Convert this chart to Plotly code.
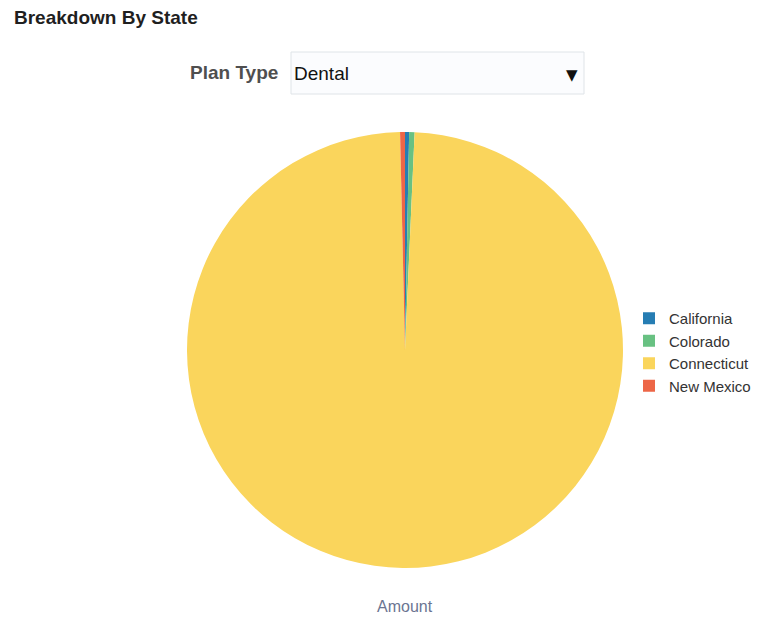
import plotly.graph_objects as go

# Data
states = ["California", "Colorado", "Connecticut", "New Mexico"]
amounts = [3100, 4100, 1012000, 3700]
colors = ["#267db3", "#68c182", "#fad55c", "#ed6647"]
plan_type = "Dental"

# page body has an 8px margin; figure is sized to fit in the window
OFF = 8
W, H = 772 - OFF, 617 - OFF


def px(x):
    return (x - OFF) / W


def py(y):
    return 1 - (y - OFF) / H


fig = go.Figure(
    go.Pie(
        labels=states,
        values=amounts,
        marker=dict(colors=colors, line=dict(width=0)),
        sort=False,
        direction="clockwise",
        rotation=0,
        textinfo="none",
        domain=dict(x=[px(187), px(623)], y=[py(568), py(132)]),
        hovertemplate="%{label}<br>Amount: %{value:,}<extra></extra>",
    )
)

FONT = "Liberation Sans, Arial, sans-serif"

fig.update_layout(
    width=W,
    height=H,
    margin=dict(l=0, r=0, t=0, b=0),
    paper_bgcolor="white",
    font=dict(family=FONT, size=15, color="#333333"),
    showlegend=True,
    legend=dict(
        x=px(629),
        y=py(302),
        xanchor="left",
        yanchor="top",
        font=dict(family=FONT, size=15, color="#333333"),
        bgcolor="rgba(0,0,0,0)",
        tracegroupgap=0,
    ),
    shapes=[
        dict(
            type="rect",
            xref="paper",
            yref="paper",
            x0=px(291),
            x1=px(584),
            y0=py(94),
            y1=py(52),
            line=dict(color="#dfe4e8", width=1),
            fillcolor="#fbfcfe",
        )
    ],
    annotations=[
        dict(
            text="<b>Breakdown By State</b>",
            xref="paper",
            yref="paper",
            x=px(12),
            y=py(18),
            xanchor="left",
            yanchor="middle",
            showarrow=False,
            font=dict(family=FONT, size=19, color="#1f1f1f"),
        ),
        dict(
            text="<b>Plan Type</b>",
            xref="paper",
            yref="paper",
            x=px(280),
            y=py(73),
            xanchor="right",
            yanchor="middle",
            showarrow=False,
            font=dict(family=FONT, size=19, color="#4f4f4f"),
        ),
        dict(
            text=plan_type,
            xref="paper",
            yref="paper",
            x=px(292),
            y=py(74),
            xanchor="left",
            yanchor="middle",
            showarrow=False,
            font=dict(family=FONT, size=19, color="#111111"),
        ),
        dict(
            text="▼",
            xref="paper",
            yref="paper",
            x=px(572),
            y=py(75),
            xanchor="center",
            yanchor="middle",
            showarrow=False,
            font=dict(family="DejaVu Sans", size=15, color="#111111"),
        ),
        dict(
            text="Amount",
            xref="paper",
            yref="paper",
            x=px(405),
            y=py(606),
            xanchor="center",
            yanchor="middle",
            showarrow=False,
            font=dict(family=FONT, size=16, color="#6b7592"),
        ),
    ],
)

fig.write_html("out.html")
